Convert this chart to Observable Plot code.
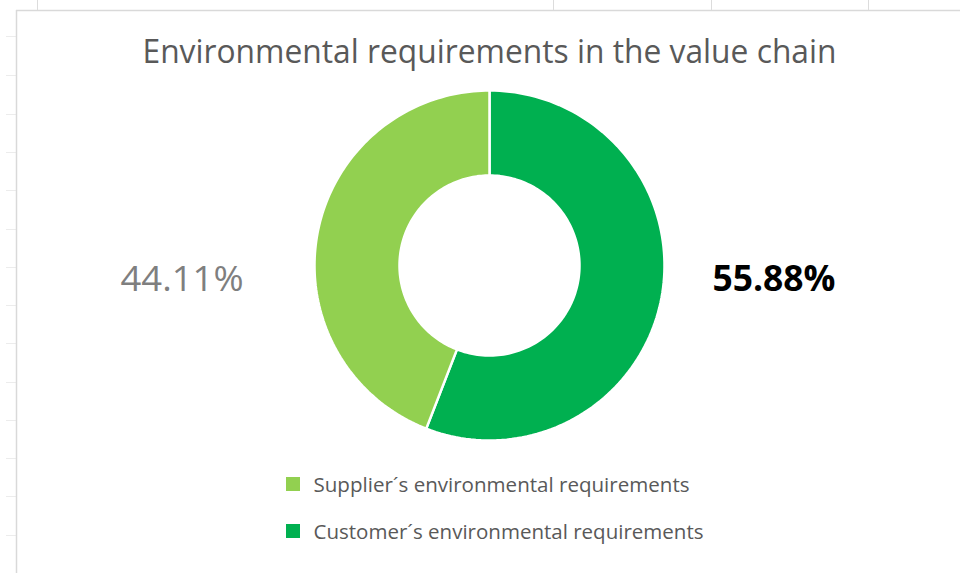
<!DOCTYPE html>
<html>
<head>
<meta charset="utf-8">
<script src="https://cdn.jsdelivr.net/npm/d3@7"></script>
<script src="https://cdn.jsdelivr.net/npm/@observablehq/plot@0.6"></script>
<style>
  html, body { margin: 0; padding: 0; background: #ffffff; }
  #chart svg { display: block; font-family: "Open Sans", sans-serif; }
</style>
</head>
<body>
<div id="chart"></div>
<script>
// ---- data ----
const title = "Environmental requirements in the value chain";
const categories = ["Customer´s environmental requirements", "Supplier´s environmental requirements"];
const values = [55.88, 44.11];
const valueLabels = ["55.88%", "44.11%"];
const colors = ["#00B050", "#92D050"];
const legendOrder = ["Supplier´s environmental requirements", "Customer´s environmental requirements"];
// spreadsheet gridline ticks behind the chart object
const gridRows = [36, 75, 114, 152, 190, 229, 267, 305, 343, 382, 420, 458, 496, 535];
const gridCols = [37, 553, 711, 868];

// ---- layout ----
const W = 960, H = 573;
const cx = 489, cy = 265, rOuter = 175, rInner = 90;
const border = {x: 16, y: 10};

// donut slices via d3.pie (angles from the values)
const pie = d3.pie().sort(null).value(d => d.value);
const arcs = pie(categories.map((c, i) => ({category: c, value: values[i], label: valueLabels[i]})));
const slicePts = [];
for (const a of arcs) {
  const n = 120;
  const pts = [];
  for (let k = 0; k <= n; k++) {
    const t = a.startAngle + (a.endAngle - a.startAngle) * k / n;
    pts.push({category: a.data.category, x: cx + rOuter * Math.sin(t), y: cy - rOuter * Math.cos(t)});
  }
  for (let k = n; k >= 0; k--) {
    const t = a.startAngle + (a.endAngle - a.startAngle) * k / n;
    pts.push({category: a.data.category, x: cx + rInner * Math.sin(t), y: cy - rInner * Math.cos(t)});
  }
  pts.push(pts[0]);
  slicePts.push(...pts);
}

// value labels: left/right of the donut depending on slice side
const labelData = arcs.map(a => {
  const mid = (a.startAngle + a.endAngle) / 2;
  const right = Math.sin(mid) > 0;
  return {label: a.data.label, x: right ? 773.5 : 181.5, y: 279, right};
});

const legendData = legendOrder.map((c, i) => ({category: c, y: 484 + i * 47}));

const textWidths = {};
textWidths[title] = 694;
textWidths["44.11%"] = 123;
textWidths["55.88%"] = 123;
textWidths[legendOrder[0]] = 376;
textWidths[legendOrder[1]] = 390;

const plot = Plot.plot({
  width: W,
  height: H,
  margin: 0,
  x: {domain: [0, W], range: [0, W], axis: null},
  y: {domain: [0, H], range: [0, H], axis: null},
  color: {domain: categories, range: colors},
  style: {background: "#ffffff", fontFamily: "Open Sans, sans-serif"},
  marks: [
    // spreadsheet background ticks and chart border
    Plot.ruleY(gridRows, {y: d => d, x1: 6, x2: border.x, stroke: "#ececec", strokeWidth: 1}),
    Plot.ruleX(gridCols, {x: d => d, y1: 0, y2: border.y, stroke: "#dcdcdc", strokeWidth: 1}),
    Plot.ruleY([border.y], {x1: border.x, x2: W, stroke: "#d9d9d9", strokeWidth: 1.5}),
    Plot.ruleX([border.x], {y1: border.y, y2: H, stroke: "#d9d9d9", strokeWidth: 1.5}),
    // donut
    Plot.line(slicePts, {x: "x", y: "y", z: "category", fill: "category", stroke: "#ffffff", strokeWidth: 2.5, curve: "linear"}),
    // title
    Plot.text([title], {x: cx, y: 52.5, text: d => d, fontSize: 32, fill: "#595959", textAnchor: "middle"}),
    // value labels
    Plot.text(labelData.filter(d => !d.right), {x: "x", y: "y", text: "label", fontSize: 35,
      fill: "#7f7f7f", textAnchor: "middle"}),
    Plot.text(labelData.filter(d => d.right), {x: "x", y: "y", text: "label", fontSize: 35,
      fill: "#000000", fontWeight: "bold", textAnchor: "middle"}),
    // legend
    Plot.rect(legendData, {x1: 286, x2: 300, y1: d => d.y - 7, y2: d => d.y + 7, fill: "category"}),
    Plot.text(legendData, {x: 313, y: d => d.y + 1, text: "category", fontSize: 20, fill: "#595959", textAnchor: "start"})
  ]
});

// condense text to the reference's narrower (Calibri-like) widths
d3.select(plot).selectAll("text").each(function() {
  const t = this.textContent;
  if (textWidths[t]) {
    this.setAttribute("textLength", textWidths[t]);
    this.setAttribute("lengthAdjust", "spacingAndGlyphs");
  }
});

document.getElementById("chart").appendChild(plot);
</script>
</body>
</html>
